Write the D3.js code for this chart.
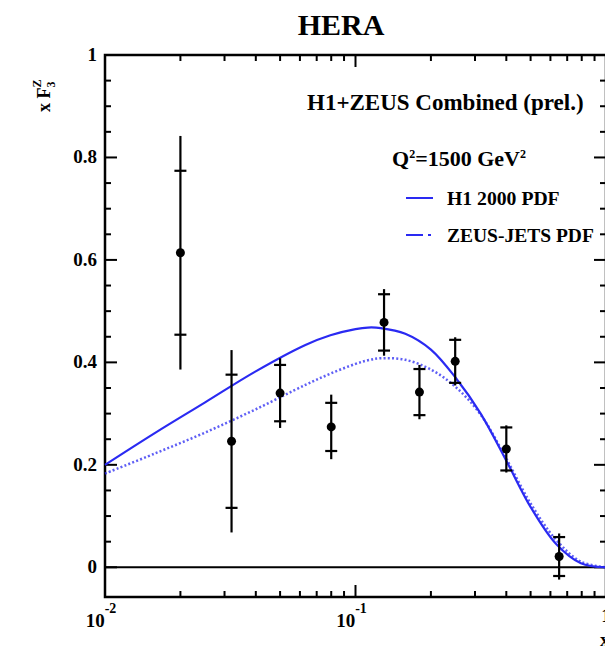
<!DOCTYPE html>
<html>
<head>
<meta charset="utf-8">
<script src="https://cdn.jsdelivr.net/npm/d3@7"></script>
<style>
  body { margin: 0; background: #fff; }
  svg text { font-family: "Liberation Serif", "Times New Roman", serif; font-weight: bold; fill: #000; }
</style>
</head>
<body>
<div id="chart"></div>
<script>
// measured points: x, xF3, stat error (inner ticks), total error (full bar)
var xPts = [0.02, 0.032, 0.05, 0.08, 0.13, 0.18, 0.25, 0.40, 0.65];
var yPts = [0.614, 0.246, 0.340, 0.274, 0.478, 0.342, 0.402, 0.231, 0.021];
var statErr = [0.160, 0.130, 0.055, 0.047, 0.055, 0.045, 0.042, 0.042, 0.038];
var totErr = [0.228, 0.178, 0.068, 0.063, 0.065, 0.053, 0.047, 0.046, 0.045];

// PDF predictions
var pdfX = [0.01, 0.0158, 0.0251, 0.0398, 0.0631, 0.0794, 0.1, 0.112, 0.126, 0.158, 0.2, 0.251, 0.316, 0.398, 0.501, 0.631, 0.794, 1.0];
var h1Y = [0.200, 0.262, 0.322, 0.382, 0.434, 0.453, 0.465, 0.468, 0.467, 0.456, 0.425, 0.370, 0.300, 0.210, 0.117, 0.046, 0.008, 0.0];
var zeusY = [0.183, 0.222, 0.263, 0.308, 0.356, 0.378, 0.397, 0.404, 0.408, 0.405, 0.386, 0.352, 0.298, 0.214, 0.124, 0.054, 0.011, 0.0];

var yMajor = [0, 0.2, 0.4, 0.6, 0.8, 1];
var xMajor = [0.01, 0.1, 1];
var xLabelExp = ["-2", "-1", ""];

var svg = d3.select("#chart")
    .append("svg")
    .attr("width", 605)
    .attr("height", 646);

var x = d3.scaleLog().domain([0.01, 1]).range([105, 606]);
var y = d3.scaleLinear().domain([-0.058, 1]).range([597, 55]);

var blue = "#2a2af2";

// title
svg.append("text")
    .attr("x", 341)
    .attr("y", 35)
    .attr("text-anchor", "middle")
    .style("font-size", "30px")
    .text("HERA");

// zero line
svg.append("line")
    .attr("x1", x(0.01)).attr("x2", x(1))
    .attr("y1", y(0)).attr("y2", y(0))
    .attr("stroke", "#000")
    .attr("stroke-width", 2);

// ticks
var yMinor = d3.range(0, 21).map(function(i) { return i * 0.05; })
    .filter(function(v) { return Math.abs(v * 5 - Math.round(v * 5)) > 1e-6; });
var xMinor = [];
[0.01, 0.1].forEach(function(d) {
    for (var k = 2; k <= 9; k++) xMinor.push(d * k);
});

var ticks = svg.append("g").attr("stroke", "#000").attr("stroke-width", 2);
yMajor.forEach(function(v) {
    ticks.append("line").attr("x1", 105).attr("x2", 117).attr("y1", y(v)).attr("y2", y(v));
    ticks.append("line").attr("x1", 606).attr("x2", 594).attr("y1", y(v)).attr("y2", y(v));
});
yMinor.forEach(function(v) {
    ticks.append("line").attr("x1", 105).attr("x2", 111).attr("y1", y(v)).attr("y2", y(v));
    ticks.append("line").attr("x1", 606).attr("x2", 600).attr("y1", y(v)).attr("y2", y(v));
});
xMajor.forEach(function(v) {
    ticks.append("line").attr("x1", x(v)).attr("x2", x(v)).attr("y1", 597).attr("y2", 585);
    ticks.append("line").attr("x1", x(v)).attr("x2", x(v)).attr("y1", 55).attr("y2", 67);
});
xMinor.forEach(function(v) {
    ticks.append("line").attr("x1", x(v)).attr("x2", x(v)).attr("y1", 597).attr("y2", 591);
    ticks.append("line").attr("x1", x(v)).attr("x2", x(v)).attr("y1", 55).attr("y2", 61);
});

// frame
svg.append("rect")
    .attr("x", 105).attr("y", 55)
    .attr("width", 501).attr("height", 542)
    .attr("fill", "none")
    .attr("stroke", "#000")
    .attr("stroke-width", 2.5);

// y tick labels
svg.append("g").selectAll("text")
    .data(yMajor)
    .enter().append("text")
    .attr("x", 97)
    .attr("y", function(d) { return y(d) + 6; })
    .attr("text-anchor", "end")
    .style("font-size", "19px")
    .text(function(d) { return d === 0 || d === 1 ? d : d.toFixed(1); });

// x tick labels 10^n
xMajor.forEach(function(v, i) {
    var t = svg.append("text")
        .attr("x", x(v) + (xLabelExp[i] ? -4 : 0))
        .attr("y", xLabelExp[i] ? 627 : 622)
        .attr("text-anchor", "middle")
        .style("font-size", "19px");
    if (xLabelExp[i]) {
        t.append("tspan").text("10");
        t.append("tspan").attr("dy", -14).style("font-size", "14px").text(xLabelExp[i]);
    } else {
        t.text("1");
    }
});

// axis titles
svg.append("text")
    .attr("x", 600)
    .attr("y", 646)
    .attr("text-anchor", "start")
    .style("font-size", "19px")
    .text("x");

var yt = svg.append("text")
    .attr("transform", "translate(50, 112) rotate(-90)")
    .style("font-size", "18px");
yt.append("tspan").text("x F");
yt.append("tspan").attr("dy", 5).style("font-size", "12px").text("3");
yt.append("tspan").attr("dx", -6).attr("dy", -14).style("font-size", "12px").text("Z");

// PDF curves
var line = d3.line()
    .x(function(d) { return x(d[0]); })
    .y(function(d) { return y(d[1]); })
    .curve(d3.curveCatmullRom.alpha(0.5));

svg.append("path")
    .datum(d3.zip(pdfX, zeusY))
    .attr("d", line)
    .attr("fill", "none")
    .attr("stroke", blue)
    .attr("stroke-opacity", 0.75)
    .attr("stroke-width", 2.5)
    .attr("stroke-dasharray", "2,2.2");

svg.append("path")
    .datum(d3.zip(pdfX, h1Y))
    .attr("d", line)
    .attr("fill", "none")
    .attr("stroke", blue)
    .attr("stroke-width", 2.2);

// data points
var pts = svg.append("g").selectAll("g")
    .data(d3.range(xPts.length))
    .enter().append("g");

pts.append("line")
    .attr("x1", function(i) { return x(xPts[i]); })
    .attr("x2", function(i) { return x(xPts[i]); })
    .attr("y1", function(i) { return y(yPts[i] + totErr[i]); })
    .attr("y2", function(i) { return y(yPts[i] - totErr[i]); })
    .attr("stroke", "#000")
    .attr("stroke-width", 2.2);

[1, -1].forEach(function(s) {
    pts.append("line")
        .attr("x1", function(i) { return x(xPts[i]) - 6; })
        .attr("x2", function(i) { return x(xPts[i]) + 6; })
        .attr("y1", function(i) { return y(yPts[i] + s * statErr[i]); })
        .attr("y2", function(i) { return y(yPts[i] + s * statErr[i]); })
        .attr("stroke", "#000")
        .attr("stroke-width", 2.2);
});

pts.append("circle")
    .attr("cx", function(i) { return x(xPts[i]); })
    .attr("cy", function(i) { return y(yPts[i]); })
    .attr("r", 4.5)
    .attr("fill", "#000");

// legend
svg.append("text")
    .attr("x", 307)
    .attr("y", 110)
    .style("font-size", "23px")
    .text("H1+ZEUS Combined (prel.)");

var q = svg.append("text")
    .attr("x", 392)
    .attr("y", 166)
    .style("font-size", "22px");
q.append("tspan").text("Q");
q.append("tspan").attr("dy", -8).style("font-size", "12px").text("2");
q.append("tspan").attr("dy", 8).text("=1500 GeV");
q.append("tspan").attr("dy", -8).style("font-size", "12px").text("2");

svg.append("line")
    .attr("x1", 406).attr("x2", 433)
    .attr("y1", 198).attr("y2", 198)
    .attr("stroke", blue).attr("stroke-width", 2);
svg.append("text")
    .attr("x", 447).attr("y", 205)
    .style("font-size", "19.7px")
    .text("H1 2000 PDF");

svg.append("line")
    .attr("x1", 406).attr("x2", 434)
    .attr("y1", 235).attr("y2", 235)
    .attr("stroke", blue).attr("stroke-width", 2)
    .attr("stroke-dasharray", "17,5,3");
svg.append("text")
    .attr("x", 447).attr("y", 242)
    .style("font-size", "19.5px")
    .text("ZEUS-JETS PDF");
</script>
</body>
</html>
